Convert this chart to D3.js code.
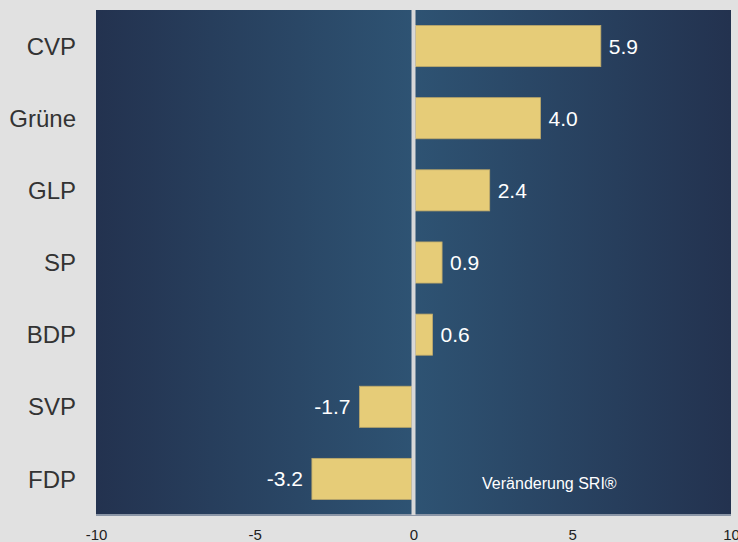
<!DOCTYPE html>
<html>
<head>
<meta charset="utf-8">
<script src="https://cdn.jsdelivr.net/npm/d3@7"></script>
<style>
  body { margin: 0; background: #e1e1e1; }
  svg { display: block; font-family: "Liberation Sans", Arial, sans-serif; }
</style>
</head>
<body>
<div id="chart"></div>
<script>
/* global d3 */

var parties = ["CVP", "Grüne", "GLP", "SP", "BDP", "SVP", "FDP"];
var changes = [5.9, 4.0, 2.4, 0.9, 0.6, -1.7, -3.2];
var xTicks = [-10, -5, 0, 5, 10];

var W = 738, H = 542;
var margin = { top: 10, right: 7, bottom: 27, left: 96 };
var width = W - margin.left - margin.right,
  height = H - margin.top - margin.bottom;

var svg = d3.select("#chart").append("svg")
  .attr("width", W)
  .attr("height", H);

/* background gradient of the plot panel */
var grad = svg.append("defs").append("linearGradient")
  .attr("id", "bg")
  .attr("x1", "0%").attr("x2", "100%")
  .attr("y1", "0%").attr("y2", "0%");
grad.append("stop").attr("offset", "0%").attr("stop-color", "#23324f");
grad.append("stop").attr("offset", "50%").attr("stop-color", "#2e5373");
grad.append("stop").attr("offset", "100%").attr("stop-color", "#23324f");

var g = svg.append("g")
  .attr("transform", "translate(" + margin.left + "," + margin.top + ")");

var x = d3.scaleLinear().domain([-10, 10]).range([0, width]);
var y = d3.scaleBand().domain(parties).range([0, height]).paddingInner(0.43).paddingOuter(0.215);

// plain hyphen minus, as in the original
var fmt = function(v, p) { return d3.format(p)(v).replace("\u2212", "-"); };

g.append("rect")
  .attr("width", width)
  .attr("height", height)
  .attr("fill", "url(#bg)");

// bottom border
g.append("line")
  .attr("x1", 0).attr("x2", width)
  .attr("y1", height).attr("y2", height)
  .attr("stroke", "#8a95a6")
  .attr("stroke-width", 2);

var data = parties.map(function(p, i) { return { party: p, value: changes[i] }; });

g.selectAll(".bar")
  .data(data)
  .enter().append("rect")
  .attr("class", "bar")
  .attr("x", function(d) { return d.value < 0 ? x(d.value) : x(0) + 2; })
  .attr("y", function(d) { return y(d.party); })
  .attr("width", function(d) { return d.value < 0 ? x(0) - 2 - x(d.value) : x(d.value) - x(0) - 2; })
  .attr("height", y.bandwidth())
  .attr("fill", "#e6cc78")
  .attr("stroke", "#bda86a")
  .attr("stroke-width", 0.8);

// zero line
g.append("line")
  .attr("x1", x(0)).attr("x2", x(0))
  .attr("y1", 0).attr("y2", height)
  .attr("stroke", "#d8d8d8")
  .attr("stroke-width", 4);

// value labels
g.selectAll(".val")
  .data(data)
  .enter().append("text")
  .attr("class", "val")
  .attr("x", function(d) { return d.value < 0 ? x(d.value) - 9 : x(d.value) + 8; })
  .attr("y", function(d) { return y(d.party) + y.bandwidth() / 2; })
  .attr("dy", "0.36em")
  .attr("text-anchor", function(d) { return d.value < 0 ? "end" : "start"; })
  .attr("fill", "#ffffff")
  .style("font-size", "21px")
  .text(function(d) { return fmt(d.value, ".1f"); });

// category labels
g.selectAll(".cat")
  .data(parties)
  .enter().append("text")
  .attr("class", "cat")
  .attr("x", -20)
  .attr("y", function(d) { return y(d) + y.bandwidth() / 2; })
  .attr("dy", "0.36em")
  .attr("text-anchor", "end")
  .attr("fill", "#333333")
  .style("font-size", "24px")
  .text(function(d) { return d; });

// x axis
var xAxis = g.append("g")
  .attr("transform", "translate(0," + height + ")")
  .call(d3.axisBottom(x).tickValues(xTicks).tickSize(0).tickPadding(14)
    .tickFormat(function(d) { return fmt(d, "d"); }));
xAxis.select(".domain").remove();
xAxis.selectAll("text")
  .attr("fill", "#222222")
  .style("font-size", "15px")
  .style("font-family", "'Liberation Sans', Arial, sans-serif");

// note
g.append("text")
  .attr("x", x(2.16))
  .attr("y", height - 26)
  .attr("text-anchor", "start")
  .attr("fill", "#ffffff")
  .style("font-size", "16px")
  .text("Veränderung SRI®");
</script>
</body>
</html>
